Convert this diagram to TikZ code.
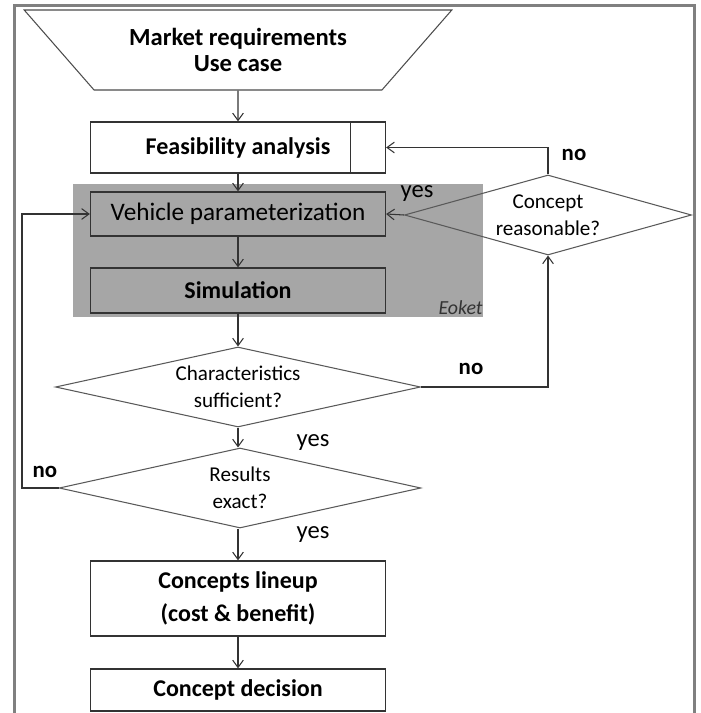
\documentclass[tikz,border=0pt]{standalone}
\usepackage{fontspec}
\setmainfont{Carlito}
\usetikzlibrary{positioning,arrows.meta,shapes.geometric}
\definecolor{frgray}{HTML}{808080}
\definecolor{grpgray}{HTML}{A6A6A6}
\definecolor{lnk}{HTML}{333333}

\begin{document}
\begin{tikzpicture}[x=0.03cm, y=-0.03cm,
      font=\fontsize{20.5}{23}\selectfont,
      blk/.style={draw=lnk, line width=1.1pt, minimum width=8.85cm, align=center,
                  font=\fontsize{20.5}{28}\selectfont\bfseries},
      gblk/.style={blk, fill=grpgray},
      inbox/.style={trapezium, trapezium left angle=43, trapezium right angle=43,
                    shape border rotate=180, trapezium stretches=true,
                    minimum width=12.84cm, minimum height=2.4cm, draw=black!70,
                    line width=0.9pt, align=center, font=\fontsize{21}{22}\selectfont\bfseries},
      dec/.style={diamond, draw=black!65, line width=0.9pt, align=center, inner sep=0pt,
                  font=\fontsize{18}{23}\selectfont},
      arr/.style={-{Straight Barb[length=2.2mm,width=3.2mm]}, draw=lnk, line width=0.9pt},
      lbl/.style={font=\fontsize{21}{23}\selectfont},
      nolbl/.style={font=\fontsize{19.5}{23}\selectfont\bfseries}
    ]
    \useasboundingbox (0,0) rectangle (700,713);
    % frame
    \draw[frgray, line width=2.6pt] (14.5,713) -- (14.5,5.5) -- (694.5,5.5) -- (694.5,713);

    % gray group
    \node[fill=grpgray, minimum width=12.3cm, minimum height=3.99cm, inner sep=0pt] (grp) at (278,250.5) {};
    \node[font=\fontsize{17}{18}\selectfont\itshape, text=lnk, anchor=south east, inner sep=1pt] (eoket) at (484,316) {Eoket};

    % main column
    \node[inbox] (market) at (238,50) {Market requirements\\Use case};
    \node[blk, minimum height=1.53cm] (feas) at (238,147.5) {Feasibility analysis};
    \draw[lnk, line width=1.1pt] ([xshift=-1.08cm]feas.north east) -- ([xshift=-1.08cm]feas.south east);
    \node[gblk, minimum height=1.32cm, font=\fontsize{21.5}{23}\selectfont] (veh) at (238,214) {Vehicle parameterization};
    \node[gblk, minimum height=1.35cm] (sim) at (238,290.5) {Simulation};
    \node[dec, aspect=4.56, minimum width=10.95cm, minimum height=2.4cm] (chr) at (238,387) {Characteristics\\sufficient?};
    \node[dec, aspect=4.5, minimum width=10.85cm, minimum height=2.4cm] (res) at (240,488) {Results\\exact?};
    \node[blk, minimum height=2.25cm] (lineup) at (238,598.5) {Concepts lineup\\(cost \& benefit)};
    \node[blk, minimum height=1.26cm] (decide) at (238,690) {Concept decision};

    % side decision
    \node[dec, aspect=3.59, minimum width=8.61cm, minimum height=2.4cm] (reas) at (548,215) {Concept\\reasonable?};

    \draw[arr] (market) -- (feas);
    \draw[arr] (feas) -- (veh);
    \draw[arr] (veh) -- (sim);
    \draw[arr] (sim) -- (chr);
    \draw[arr] (chr.south) -- (chr.south |- res.north);
    \draw[arr] (chr.south |- res.south) -- (lineup);
    \draw[arr] (lineup) -- (decide);

    % loops
    \draw[arr] (chr.east) -| (reas.south);
    \draw[arr] (reas.north) |- (feas.east);
    \draw[arr] (reas.west) -- (veh.east);
    \coordinate (back) at (22,488);
    \draw[arr] (res.west) -- (back) |- (veh.west);

    % labels
    \node[nolbl] (no1) at (574,155) {no};
    \node[lbl] (yes1) at (417,194) {yes};
    \node[nolbl] (no2) at (471,369) {no};
    \node[lbl] (yes2) at (313,443) {yes};
    \node[nolbl] (no3) at (45,472) {no};
    \node[lbl] (yes3) at (313,535) {yes};
  \end{tikzpicture}
\end{document}
